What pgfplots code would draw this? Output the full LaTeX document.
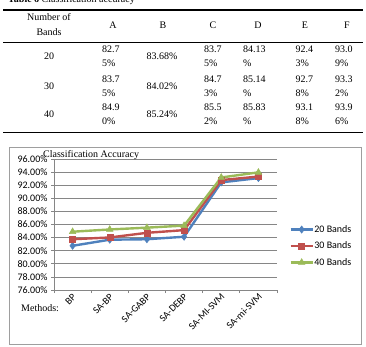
\documentclass[border=0pt]{standalone}
\usepackage{fontspec}
\usepackage{pgfplots}
\pgfplotsset{compat=1.18}
\setmainfont{Liberation Serif}
\newfontfamily\calibri{Carlito}

\definecolor{sBlue}{HTML}{4F81BD}
\definecolor{sRed}{HTML}{C0504D}
\definecolor{sGreen}{HTML}{9BBB59}
\definecolor{gridgray}{HTML}{868686}

% table cell: two-line value, left aligned, first baseline at y
\newcommand{\cellpair}[4]{%
  \node[anchor=base west,inner sep=0pt] at (#1pt,-#2pt) {#3};
  \node[anchor=base west,inner sep=0pt] at (#1pt,-#2pt-14.5pt) {#4};}

\begin{document}
\begin{tikzpicture}[font=\fontsize{10}{12}\selectfont]
\useasboundingbox (0pt,0pt) rectangle (366pt,-347pt);
\clip (0pt,0pt) rectangle (366pt,-347pt);

% caption and table
\node[anchor=base west,inner sep=0pt] at (8pt,-3pt) {\textbf{Table 6} Classification accuracy};
\draw[line width=1.3pt] (3pt,-10pt) -- (363pt,-10pt);
\draw[line width=0.8pt] (3pt,-42pt) -- (363pt,-42pt);
\draw[line width=1.3pt] (3pt,-132.5pt) -- (363pt,-132.5pt);

\node[align=center,inner sep=0pt,font=\fontsize{10}{15}\selectfont] at (49pt,-25pt) {Number of\\Bands};
\foreach \lab/\xx in {A/113,B/163,C/213,D/258,E/305,F/347}
  \node[inner sep=0pt] at (\xx pt,-25pt) {\lab};

% rows
\foreach \bands/\yy in {20/52.5,30/82.5,40/110.5}
  \node[anchor=base,inner sep=0pt] at (49pt,-\yy pt-7pt) {\bands};
\cellpair{102}{52.5}{82.7}{5\%}
\cellpair{102}{82.5}{83.7}{5\%}
\cellpair{102}{110.5}{84.9}{0\%}
\node[anchor=base,inner sep=0pt] at (162pt,-59.5pt) {83.68\%};
\node[anchor=base,inner sep=0pt] at (162pt,-89.5pt) {84.02\%};
\node[anchor=base,inner sep=0pt] at (162pt,-117.5pt) {85.24\%};
\cellpair{204}{52.5}{83.7}{5\%}
\cellpair{204}{82.5}{84.7}{3\%}
\cellpair{204}{110.5}{85.5}{2\%}
\cellpair{243}{52.5}{84.13}{\%}
\cellpair{243}{82.5}{85.14}{\%}
\cellpair{243}{110.5}{85.83}{\%}
\cellpair{295.5}{52.5}{92.4}{3\%}
\cellpair{295.5}{82.5}{92.7}{8\%}
\cellpair{295.5}{110.5}{93.1}{8\%}
\cellpair{335}{52.5}{93.0}{9\%}
\cellpair{335}{82.5}{93.3}{2\%}
\cellpair{335}{110.5}{93.9}{6\%}

% chart frame
\draw[gridgray!80,line width=1pt] (9pt,-148pt) rectangle (361pt,-344pt);

\begin{axis}[
  scale only axis,
  width=223pt, height=131pt,
  at={(54pt,-290pt)}, anchor=south west,
  xmin=0, xmax=6, ymin=76, ymax=96,
  axis x line=bottom, axis y line=left,
  axis line style={-,gridgray,line width=0.8pt},
  xtick={0,1,...,6}, xticklabels={},
  ytick={76,78,...,96},
  tick align=outside, major tick length=3pt,
  tick style={gridgray,line width=0.8pt},
  ymajorgrids, grid style={gridgray,line width=0.8pt},
  yticklabel={\pgfmathprintnumber[fixed,fixed zerofill,precision=2]{\tick}\%},
  y tick label style={font=\calibri\fontsize{10}{12}\selectfont,
    /pgf/number format/assume math mode=true},
  extra x ticks={0.5,1.5,...,5.5},
  extra x tick labels={BP,SA-BP,SA-GABP,SA-DEBP,SA-MI-SVM,SA-mi-SVM},
  extra x tick style={major tick length=0pt, grid=none,
    tick label style={rotate=45, anchor=east, yshift=-5pt, xshift=1pt,
      font=\calibri\fontsize{10}{12}\selectfont}},
  legend style={draw=none, fill=none, at={(rel axis cs:1.055,0.336)},
    anchor=west, font=\calibri\fontsize{10}{12}\selectfont,
    row sep=4pt, inner sep=0pt, nodes={inner xsep=0.5pt}},
  legend cell align=left,
  legend image code/.code={%
    \draw[mark repeat=2,mark phase=2] plot coordinates {(0pt,0pt) (11pt,0pt) (22pt,0pt)};},
  clip=false,
]
\addplot[color=sBlue, line width=2.4pt, mark=diamond*, mark size=3.6pt,
  mark options={line width=0.5pt}]
  coordinates {(0.5,82.75) (1.5,83.68) (2.5,83.75) (3.5,84.13) (4.5,92.43) (5.5,93.09)};
\addlegendentry{20 Bands}
\addplot[color=sRed, line width=2.4pt, mark=square*, mark size=3pt,
  mark options={line width=0.5pt}]
  coordinates {(0.5,83.75) (1.5,84.02) (2.5,84.73) (3.5,85.14) (4.5,92.78) (5.5,93.32)};
\addlegendentry{30 Bands}
\addplot[color=sGreen, line width=2.4pt, mark=triangle*, mark size=3.8pt,
  mark options={line width=0.5pt}]
  coordinates {(0.5,84.90) (1.5,85.24) (2.5,85.52) (3.5,85.83) (4.5,93.18) (5.5,93.96)};
\addlegendentry{40 Bands}
\end{axis}

\node[anchor=base west,inner sep=0pt] at (43pt,-158pt) {Classification Accuracy};
\node[anchor=base west,inner sep=0pt] at (21pt,-311pt) {Methods:};
\end{tikzpicture}
\end{document}
